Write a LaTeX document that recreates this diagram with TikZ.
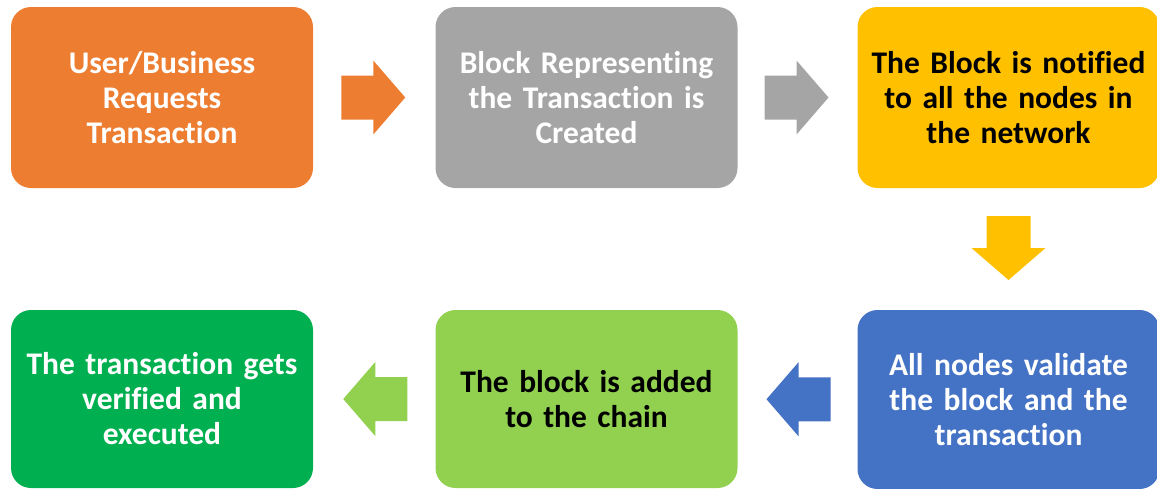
\documentclass[tikz,border=0pt]{standalone}
\usepackage{fontspec}
\setmainfont{Carlito}[Ligatures=NoCommon]
\usetikzlibrary{calc}
\definecolor{cOrange}{HTML}{ED7D31}
\definecolor{cGray}{HTML}{A5A5A5}
\definecolor{cGold}{HTML}{FFC000}
\definecolor{cBlue}{HTML}{4472C4}
\definecolor{cLime}{HTML}{92D050}
\definecolor{cGreen}{HTML}{00B050}
\tikzset{
  stepbox/.style={rounded corners=20pt, minimum width=302pt, minimum height=181pt,
    inner sep=0pt, align=center, text width=298pt,
    font=\fontsize{31.5}{35}\selectfont\bfseries},
  blockarrow/.pic={\fill[pic actions] (-33,-22)--(-1,-22)--(-1,-37)--(31,0)--(-1,37)--(-1,22)--(-33,22)--cycle;}
}
\begin{document}
\begin{tikzpicture}[x=1pt,y=-1pt]
\useasboundingbox (0,0) rectangle (1157,488);
\node[stepbox, fill=cOrange, text=white] (b1) at (162,97.5) {User/Business\\Requests\\Transaction};
\node[stepbox, fill=cGray, text=white] (b2) at (586.5,97.5) {Block Representing\\the Transaction is\\Created};
\node[stepbox, fill=cGold, text=black] (b3) at (1008.5,97.5) {The Block is notified\\to all the nodes in\\the network};
\node[stepbox, fill=cBlue, text=white, minimum height=179pt] (b4) at (1008.5,399.5) {All nodes validate\\the block and the\\transaction};
\node[stepbox, fill=cLime, text=black, minimum height=178pt] (b5) at (586.5,399) {The block is added\\to the chain};
\node[stepbox, fill=cGreen, text=white, minimum height=178pt] (b6) at (162,399) {The transaction gets\\verified and\\executed};
\pic[fill=cOrange] at ($(b1.east)!0.5!(b2.west)$) {blockarrow};
\pic[fill=cGray] at ($(b2.east)!0.5!(b3.west)$) {blockarrow};
\pic[fill=cGold, rotate=-90] at ($(b3.south)!0.5!(b4.north)$) {blockarrow};
\pic[fill=cBlue, rotate=180] at ($(b4.west)!0.5!(b5.east)$) {blockarrow};
\pic[fill=cLime, rotate=180] at ($(b5.west)!0.5!(b6.east)$) {blockarrow};
\end{tikzpicture}
\end{document}
